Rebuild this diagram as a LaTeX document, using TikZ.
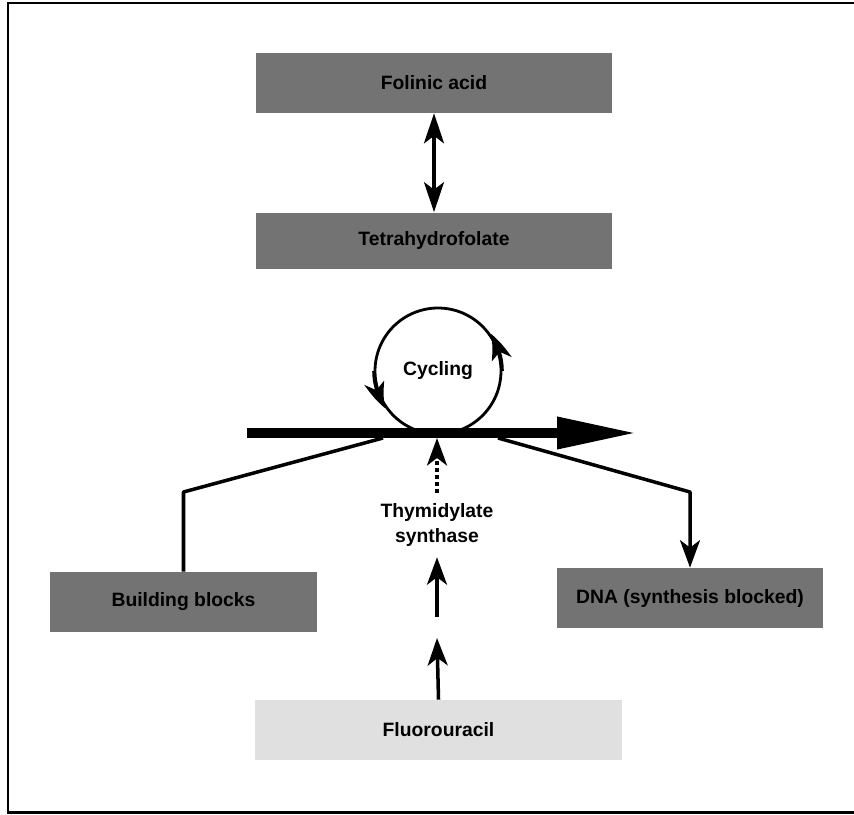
\documentclass[tikz,border=0pt]{standalone}
\usepackage{fontspec}
\setmainfont{Liberation Sans}
\usepackage{tikz}
\usetikzlibrary{arrows.meta, bending, positioning, calc}
\tikzset{
  blk/.style={rectangle, inner sep=2pt, minimum height=1.2cm,
              align=center, font=\fontsize{11}{14}\selectfont\bfseries},
  darkblk/.style={blk, fill=black!55},
  lightblk/.style={blk, fill=black!12},
  lbl/.style={align=center, font=\fontsize{11}{14}\selectfont\bfseries},
  arr/.style={-{Stealth[length=5.5mm, width=4mm, inset=1.5mm]}, line width=2pt},
  biarr/.style={{Stealth[length=6mm, width=4mm, inset=1.5mm]}-{Stealth[length=6mm, width=4mm, inset=1.5mm]}, line width=2pt},
  flow/.style={-{Triangle[length=16mm, width=6mm]}, line width=5.7pt},
  link/.style={line width=2pt, line join=round},
}

\begin{document}
\begin{tikzpicture}[
  x=0.02cm, y=0.02cm,
  cyctip/.style={line width=1.6pt, -{Stealth[length=5.5mm, width=4mm, inset=1.5mm, bend]}},
  frame/.style={line width=1.7pt}
]
  \useasboundingbox (0,0) rectangle (854,-814);
  \draw[frame] (854,-3) -- (8,-3) -- (8,-812) -- (854,-812);

  \node[darkblk, minimum width=7.14cm] (fa)  at (434,-83)  {Folinic acid};
  \node[darkblk, minimum width=7.14cm, minimum height=1.14cm] (thf) at (434,-241) {Tetrahydrofolate};
  \node[circle, draw, line width=1.6pt, minimum size=2.52cm, lbl] (cyc) at (438,-371) {Cycling};
  \node[darkblk, minimum width=5.34cm] (bb)  at (183.5,-602) {Building blocks};
  \node[darkblk, minimum width=5.32cm] (dna) at (690,-598) {DNA (synthesis blocked)};
  \node[lbl, inner ysep=6pt] (ts) at (437,-525) {Thymidylate\\synthase};
  \node[lightblk, minimum width=7.34cm] (fu) at (438.5,-730) {Fluorouracil};

  \coordinate (flowL)  at (247,-433);
  \coordinate (flowR)  at (637,-433);
  \coordinate (joinL)  at (383,-438);
  \coordinate (bendL)  at (183.5,-492);
  \coordinate (joinR)  at (498,-438);
  \coordinate (bendR)  at (690,-492);
  \coordinate (tsin)   at (437,-438);
  \coordinate (tsfrom) at (437,-617);
  \coordinate (fuup)   at (437,-638);

  \draw[biarr] (fa.south) -- (thf.north);
  \draw[link] (bb.north) -- (bendL) -- (joinL);
  \draw[arr, line join=round] (joinR) -- (bendR) -- (dna.north);
  \draw[flow] (flowL) -- (flowR);
  \draw[cyctip] (cyc.180) arc[start angle=180, end angle=215, radius=1.29cm];
  \draw[cyctip] (cyc.0) arc[start angle=0, end angle=35, radius=1.29cm];
  \draw[arr, dotted] (ts.north) -- (tsin);
  \draw[arr] (tsfrom) -- (ts.south);
  \draw[arr] (fu.north) -- (fuup);
\end{tikzpicture}
\end{document}
